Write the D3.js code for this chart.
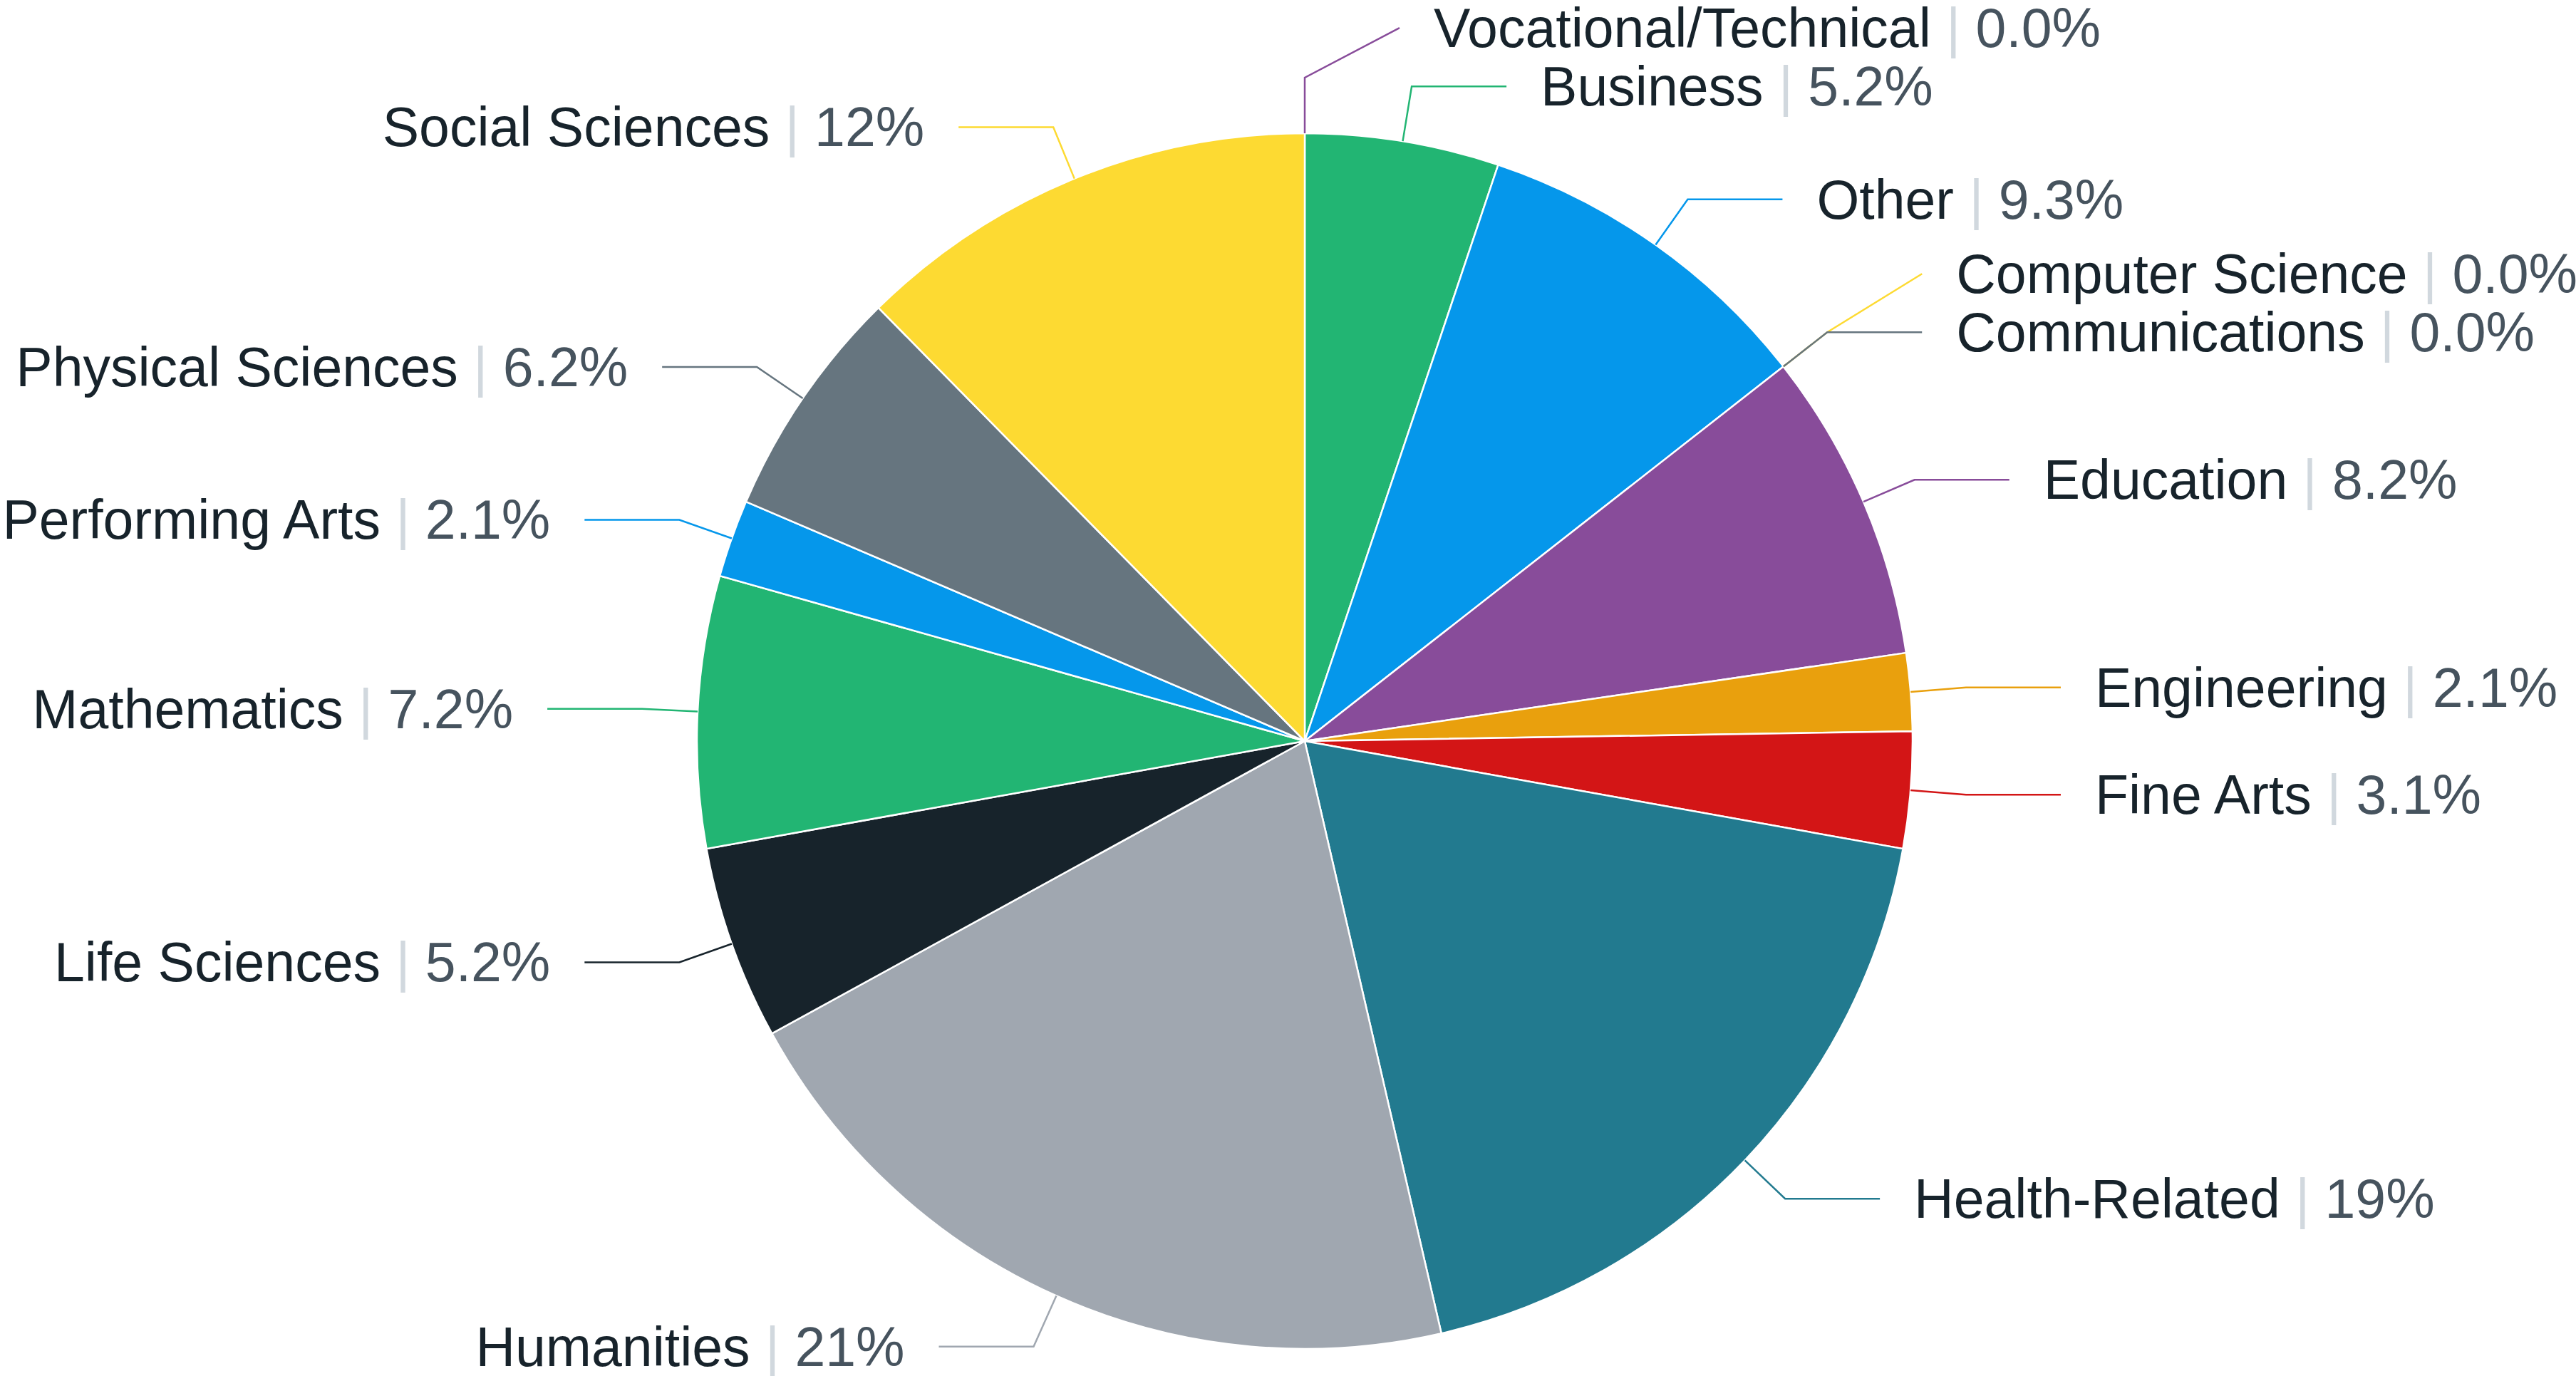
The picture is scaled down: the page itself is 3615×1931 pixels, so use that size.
<!DOCTYPE html>
<html>
<head>
<meta charset="utf-8">
<script src="https://cdn.jsdelivr.net/npm/d3@7"></script>
<style>
  body { margin: 0; background: #fff; }
  text { font-family: "Liberation Sans", Arial, sans-serif; white-space: pre; }
</style>
</head>
<body>
<svg id="chart" width="3615" height="1931"></svg>
<script>
// fields of study, clockwise from 12 o'clock
const categories = ["Vocational/Technical", "Business", "Other", "Computer Science", "Communications",
  "Education", "Engineering", "Fine Arts", "Health-Related", "Humanities", "Life Sciences",
  "Mathematics", "Performing Arts", "Physical Sciences", "Social Sciences"];
// respondents per field (n = 97), the labels show the share
const counts = [0, 5, 9, 0, 0, 8, 2, 3, 18, 20, 5, 7, 2, 6, 12];
const colors = ["#884c9a", "#22b573", "#0597eb", "#fdda32", "#66757f", "#884c9a", "#e9a00d",
  "#d31516", "#227a8f", "#a0a7b0", "#17232b", "#22b573", "#0597eb", "#66757f", "#fdda32"];

const svg = d3.select("#chart"),
  width = +svg.attr("width"),
  height = +svg.attr("height");

const cx = 1831, cy = 1040, radius = 853;
const elbow = 78,   // radial part of the connector
  run = 133,        // horizontal part
  pad = 48,         // gap between connector and text
  lineH = 82;       // min distance between labels

const total = d3.sum(counts);
const fmt = d3.format(".2r");

const data = categories.map((c, i) => ({ name: c, count: counts[i], color: colors[i], index: i }));

const pie = d3.pie().sort(null).value(d => d.count);
const arc = d3.arc().innerRadius(0).outerRadius(radius);
const arcs = pie(data);

const g = svg.append("g").attr("transform", "translate(" + cx + "," + cy + ")");

// slices
g.selectAll("path.slice")
  .data(arcs.filter(d => d.data.count > 0))
  .enter().append("path")
  .attr("class", "slice")
  .attr("d", arc)
  .attr("fill", d => d.data.color)
  .attr("stroke", "#fff")
  .attr("stroke-width", 2.5)
  .attr("stroke-linejoin", "round");

// label positions
const labels = arcs.map(a => {
  const ang = (a.startAngle + a.endAngle) / 2;
  const s = Math.sin(ang), c = -Math.cos(ang);
  return {
    d: a.data,
    right: ang < Math.PI,
    edge: [s * radius, c * radius],
    bend: [s * (radius + elbow), c * (radius + elbow)],
    y: c * (radius + elbow)
  };
});

// push overlapping labels apart, the smaller value gives way
[true, false].forEach(side => {
  const list = labels.filter(l => l.right === side).sort((a, b) => a.y - b.y || a.d.index - b.d.index);
  for (let i = list.length - 1; i > 0; i--) {
    const lo = list[i], hi = list[i - 1];
    if (lo.y - hi.y < lineH) {
      if (hi.d.count <= lo.d.count) hi.y = lo.y - lineH;
      else lo.y = hi.y + lineH;
    }
  }
});

const lab = g.selectAll("g.label")
  .data(labels)
  .enter().append("g")
  .attr("class", "label");

lab.append("path")
  .attr("fill", "none")
  .attr("stroke", d => d.d.color)
  .attr("stroke-width", 2.5)
  .attr("d", d => {
    const x2 = d.bend[0] + (d.right ? run : -run);
    return "M" + d.edge + "L" + d.bend + "L" + x2 + "," + d.y;
  });

const txt = lab.append("text")
  .attr("x", d => d.bend[0] + (d.right ? run + pad : -run - pad))
  .attr("y", d => d.y)
  .attr("dy", "0.35em")
  .attr("text-anchor", d => d.right ? "start" : "end")
  .attr("font-size", 77);

txt.append("tspan").attr("fill", "#17232b").text(d => d.d.name);
txt.append("tspan").attr("fill", "#d1d8de").text(" | ");
txt.append("tspan").attr("fill", "#46535e").text(d => fmt(d.d.count / total * 100) + "%");
</script>
</body>
</html>
